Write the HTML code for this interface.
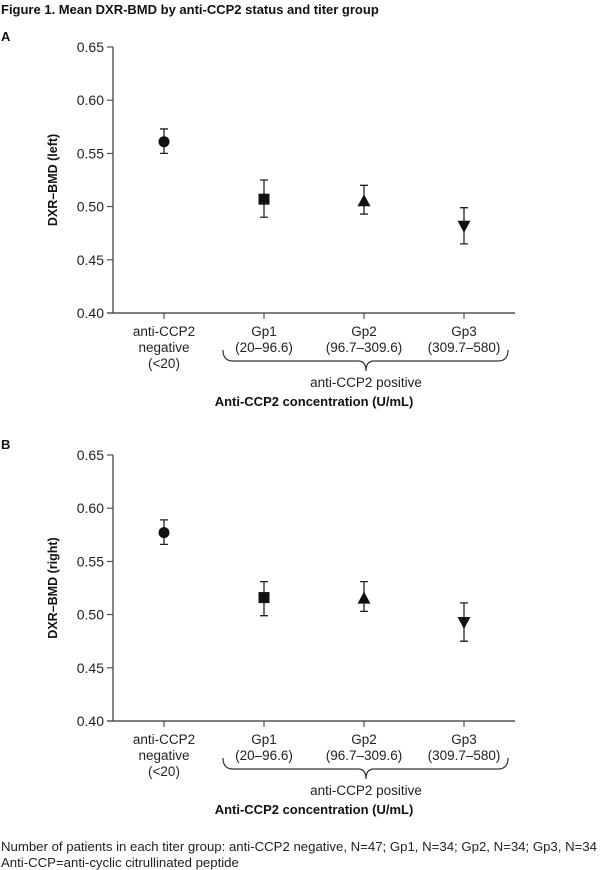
<!DOCTYPE html>
<html><head><meta charset="utf-8">
<style>
body{margin:0;background:#fff;}
svg{display:block;font-family:"Liberation Sans",Arial,sans-serif;}
</style></head>
<body>
<svg id="fig" width="602" height="870" viewBox="0 0 602 870">
<text x="1" y="14" font-size="13" font-weight="bold" fill="#111">Figure 1. Mean DXR-BMD by anti-CCP2 status and titer group</text>
<text x="1" y="851" font-size="13.2" fill="#222">Number of patients in each titer group: anti-CCP2 negative, N=47; Gp1, N=34; Gp2, N=34; Gp3, N=34</text>
</svg>
<script>
const categories1 = ["anti-CCP2", "Gp1", "Gp2", "Gp3"];
const categories2 = ["negative", "(20–96.6)", "(96.7–309.6)", "(309.7–580)"];
const categories3 = ["(<20)", "", "", ""];
const markers = ["circle", "square", "triangle", "invtriangle"];
const yTicks = [0.40, 0.45, 0.50, 0.55, 0.60, 0.65];
const yTickLabels = ["0.40", "0.45", "0.50", "0.55", "0.60", "0.65"];
const meanLeft = [0.561, 0.507, 0.505, 0.482];
const upperLeft = [0.573, 0.525, 0.520, 0.499];
const lowerLeft = [0.550, 0.490, 0.493, 0.465];
const meanRight = [0.577, 0.516, 0.515, 0.493];
const upperRight = [0.589, 0.531, 0.531, 0.511];
const lowerRight = [0.566, 0.499, 0.503, 0.475];

const NS = "http://www.w3.org/2000/svg";
const svg = document.getElementById("fig");
function mk(tag, attrs, parent) {
  const e = document.createElementNS(NS, tag);
  for (const k in attrs) e.setAttribute(k, attrs[k]);
  (parent || svg).appendChild(e);
  return e;
}
const fn2 = mk("text", {x: 1, y: 867, "font-size": 13.2, fill: "#222"});


fn2.textContent = "Anti-CCP=anti-cyclic citrullinated peptide";

function panel(off, letter, ytitle, means, ups, lows, pname) {
  const g = mk("g", {});
  
  
  const y0 = 47 + off, y1 = 313 + off;
  const ys = v => y1 - (v - 0.40) / 0.25 * (y1 - y0);
  const xs = i => 164 + i * 100;
  const lt = mk("text", {x: 1, y: 41 + off, "font-size": 13, "font-weight": "bold", fill: "#111"}, g);
  
  
  lt.textContent = letter;
  const ya = mk("line", {x1: 113, y1: y0, x2: 113, y2: y1, stroke: "#333", "stroke-width": 1.2}, g);
  
  
  const xa = mk("line", {x1: 107, y1: y1, x2: 515, y2: y1, stroke: "#333", "stroke-width": 1.2}, g);
  
  
  yTicks.forEach((v, i) => {
    const tk = mk("line", {x1: 107, y1: ys(v), x2: 113, y2: ys(v), stroke: "#333", "stroke-width": 1}, g);
    
    
    const tl = mk("text", {x: 104, y: ys(v) + 5, "font-size": 14, fill: "#222", "text-anchor": "end"}, g);
    
    
    tl.textContent = yTickLabels[i];
  });
  const yt = mk("text", {x: 0, y: 0, "font-size": 12.5, "font-weight": "bold", fill: "#111", "text-anchor": "middle", transform: `translate(57,${(y0 + y1) / 2}) rotate(-90)`}, g);
  
  
  yt.textContent = ytitle;
  categories1.forEach((c, i) => {
    const x = xs(i);
    const tk = mk("line", {x1: x, y1: y1, x2: x, y2: y1 + 6, stroke: "#333", "stroke-width": 1}, g);
    
    
    [categories1[i], categories2[i], categories3[i]].forEach((t, j) => {
      if (!t) return;
      const tx = mk("text", {x: x, y: y1 + 23 + j * 16, "font-size": 13.5, fill: "#222", "text-anchor": "middle"}, g);
      
      
      tx.textContent = t;
    });
    const yu = ys(ups[i]), yl = ys(lows[i]), ym = ys(means[i]);
    const eb = mk("path", {d: `M${x},${yu}V${yl}M${x - 4},${yu}H${x + 4}M${x - 4},${yl}H${x + 4}`, stroke: "#222", "stroke-width": 1.3, fill: "none"}, g);
    
    
    let m;
    if (markers[i] === "circle") m = mk("circle", {cx: x, cy: ym, r: 5.5, fill: "#111"}, g);
    else if (markers[i] === "square") m = mk("rect", {x: x - 5.5, y: ym - 5.5, width: 11, height: 11, fill: "#111"}, g);
    else if (markers[i] === "triangle") m = mk("polygon", {points: `${x},${ym - 7} ${x - 6.5},${ym + 5} ${x + 6.5},${ym + 5}`, fill: "#111"}, g);
    else m = mk("polygon", {points: `${x},${ym + 7} ${x - 6.5},${ym - 5} ${x + 6.5},${ym - 5}`, fill: "#111"}, g);
    
    
  });
  const bt = y1 + 37, bl = y1 + 48, tip = y1 + 58;
  const br = mk("path", {d: `M223,${bt} Q223,${bl} 233,${bl} H358 Q366,${bl} 366,${tip} Q366,${bl} 374,${bl} H498 Q508,${bl} 508,${bt}`, stroke: "#333", "stroke-width": 1.2, fill: "none"}, g);
  
  
  const pl = mk("text", {x: 366, y: y1 + 74, "font-size": 13.5, fill: "#222", "text-anchor": "middle"}, g);
  
  
  pl.textContent = "anti-CCP2 positive";
  const xt = mk("text", {x: 314, y: y1 + 93, "font-size": 13, "font-weight": "bold", fill: "#111", "text-anchor": "middle"}, g);
  
  
  xt.textContent = "Anti-CCP2 concentration (U/mL)";
}
panel(0, "A", "DXR–BMD (left)", meanLeft, upperLeft, lowerLeft, "panel-a-left");
panel(408, "B", "DXR–BMD (right)", meanRight, upperRight, lowerRight, "panel-b-right");
</script>
</body></html>
